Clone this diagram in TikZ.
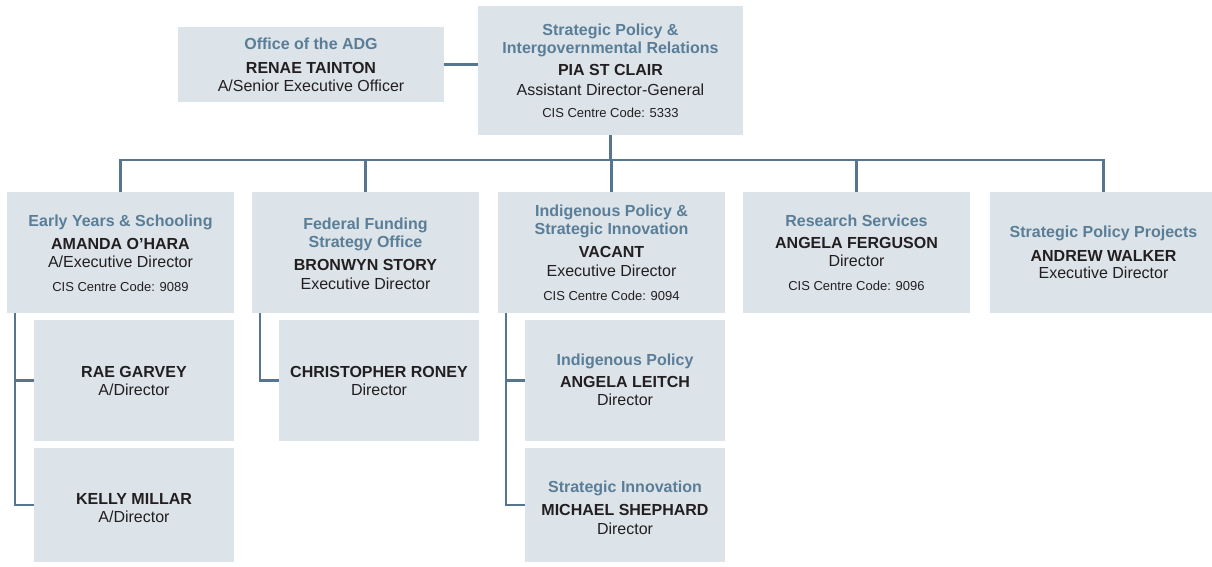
\documentclass[tikz,border=0pt]{standalone}
\usepackage{fontspec}
\setmainfont{Liberation Sans}
\usetikzlibrary{calc}
\definecolor{boxfill}{HTML}{DCE3E9}
\definecolor{ttlcol}{HTML}{5A7E98}
\definecolor{linecol}{HTML}{557590}
\definecolor{txtcol}{HTML}{231F20}
\begin{document}
\begin{tikzpicture}[x=1pt,y=-1pt,
  orgbox/.style={fill=boxfill, draw=none, inner sep=0pt, rectangle},
  ttl/.style={anchor=base, inner sep=0pt, text=ttlcol, font=\fontsize{16}{18}\selectfont\bfseries},
  nm/.style={anchor=base, inner sep=0pt, text=txtcol, font=\fontsize{16}{18}\selectfont\bfseries},
  rl/.style={anchor=base, inner sep=0pt, text=txtcol, font=\fontsize{16}{18}\selectfont},
  cis/.style={anchor=base, inner sep=0pt, text=txtcol, font=\fontsize{13}{15}\selectfont},
  conn/.style={draw=linecol, line width=2.5pt}]
\useasboundingbox (0,0) rectangle (1212,566);

% boxes
\node[orgbox, minimum width=265pt, minimum height=129pt] (top) at (610.5,70.5) {};
\node[orgbox, minimum width=266pt, minimum height=75pt] (adg) at (311,64.5) {};
\node[orgbox, minimum width=227pt, minimum height=121pt] (b1) at (120.5,252.5) {};
\node[orgbox, minimum width=227pt, minimum height=121pt] (b2) at (365.5,252.5) {};
\node[orgbox, minimum width=227pt, minimum height=121pt] (b3) at (611.5,252.5) {};
\node[orgbox, minimum width=227pt, minimum height=121pt] (b4) at (856.5,252.5) {};
\node[orgbox, minimum width=227pt, minimum height=121pt] (b5) at (1103.5,252.5) {};
\node[orgbox, minimum width=200pt, minimum height=121pt] (s1a) at (134,380.5) {};
\node[orgbox, minimum width=200pt, minimum height=114pt] (s1b) at (134,505) {};
\node[orgbox, minimum width=200pt, minimum height=121pt] (s2a) at (379,380.5) {};
\node[orgbox, minimum width=200pt, minimum height=121pt] (s3a) at (625,380.5) {};
\node[orgbox, minimum width=200pt, minimum height=114pt] (s3b) at (625,505) {};

% connectors
\draw[conn] (adg.east) -- (adg.east -| top.west);
\coordinate (bus) at (610.5,160);
\draw[conn] (top.south) -- (bus);
\draw[conn] (b1.north) -- (b1.north |- bus) -- (b5.north |- bus) -- (b5.north);
\draw[conn] (b2.north |- bus) -- (b2.north);
\draw[conn] (b3.north |- bus) -- (b3.north);
\draw[conn] (b4.north |- bus) -- (b4.north);
\coordinate (t1) at ($(b1.south west)+(8,0)$);
\coordinate (t2) at ($(b2.south west)+(8,0)$);
\coordinate (t3) at ($(b3.south west)+(8,0)$);
\draw[conn] (t1) |- (s1b.west);
\draw[conn] (t1 |- s1a.west) -- (s1a.west);
\draw[conn] (t2) |- (s2a.west);
\draw[conn] (t3) |- (s3b.west);
\draw[conn] (t3 |- s3a.west) -- (s3a.west);

% top box text
\node[ttl] (topt1) at (610.5,35) {Strategic Policy \&};
\node[ttl] (topt2) at (610.5,53) {Intergovernmental Relations};
\node[nm] (topn) at (610.5,75.5) {PIA ST CLAIR};
\node[rl] (topr) at (610.5,95) {Assistant Director-General};
\node[cis] (topc) at (610.5,117) {CIS Centre Code: 5333};

% ADG office
\node[ttl] (adgt) at (311,49) {Office of the ADG};
\node[nm] (adgn) at (311,73) {RENAE TAINTON};
\node[rl] (adgr) at (311,91) {A/Senior Executive Officer};

% b1
\node[ttl] (b1t) at (120.5,226) {Early Years \& Schooling};
\node[nm] (b1n) at (120.5,249) {AMANDA O’HARA};
\node[rl] (b1r) at (120.5,267) {A/Executive Director};
\node[cis] (b1c) at (120.5,291) {CIS Centre Code: 9089};

% b2
\node[ttl] (b2t1) at (365.5,229) {Federal Funding};
\node[ttl] (b2t2) at (365.5,247) {Strategy Office};
\node[nm] (b2n) at (365.5,270) {BRONWYN STORY};
\node[rl] (b2r) at (365.5,289) {Executive Director};

% b3
\node[ttl] (b3t1) at (611.5,216.5) {Indigenous Policy \&};
\node[ttl] (b3t2) at (611.5,234.5) {Strategic Innovation};
\node[nm] (b3n) at (611.5,257.5) {VACANT};
\node[rl] (b3r) at (611.5,276.5) {Executive Director};
\node[cis] (b3c) at (611.5,300) {CIS Centre Code: 9094};

% b4
\node[ttl] (b4t) at (856.5,226) {Research Services};
\node[nm] (b4n) at (856.5,248.5) {ANGELA FERGUSON};
\node[rl] (b4r) at (856.5,266.5) {Director};
\node[cis] (b4c) at (856.5,290.5) {CIS Centre Code: 9096};

% b5
\node[ttl] (b5t) at (1103.5,237.5) {Strategic Policy Projects};
\node[nm] (b5n) at (1103.5,261) {ANDREW WALKER};
\node[rl] (b5r) at (1103.5,278.5) {Executive Director};

% sub boxes
\node[nm] (s1an) at (134,377) {RAE GARVEY};
\node[rl] (s1ar) at (134,395) {A/Director};
\node[nm] (s1bn) at (134,504.5) {KELLY MILLAR};
\node[rl] (s1br) at (134,522) {A/Director};
\node[nm] (s2an) at (379,377) {CHRISTOPHER RONEY};
\node[rl] (s2ar) at (379,395) {Director};
\node[ttl] (s3at) at (625,365) {Indigenous Policy};
\node[nm] (s3an) at (625,387.5) {ANGELA LEITCH};
\node[rl] (s3ar) at (625,405.5) {Director};
\node[ttl] (s3bt) at (625,492.5) {Strategic Innovation};
\node[nm] (s3bn) at (625,515) {MICHAEL SHEPHARD};
\node[rl] (s3br) at (625,534) {Director};
\end{tikzpicture}
\end{document}
